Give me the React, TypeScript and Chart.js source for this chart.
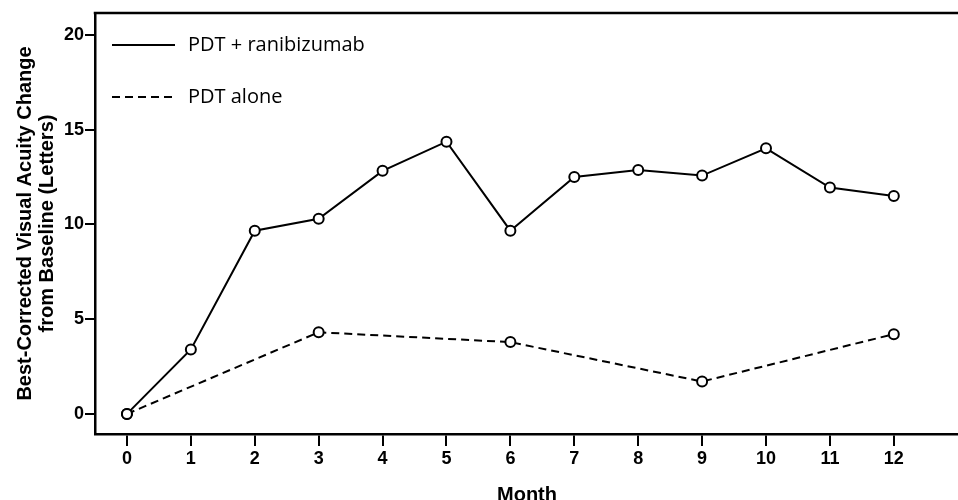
import React, { useEffect, useRef } from 'react';
import { Chart, registerables } from 'chart.js';

Chart.register(...registerables);

const months = [0, 1, 2, 3, 4, 5, 6, 7, 8, 9, 10, 11, 12];
const comboValues = [0, 3.4, 9.67, 10.3, 12.83, 14.37, 9.67, 12.5, 12.87, 12.58, 14.02, 11.95, 11.5];
const pdtMonths = [0, 3, 6, 9, 12];
const pdtValues = [0, 4.31, 3.79, 1.71, 4.21];
const yTicks = [0, 5, 10, 15, 20];
const xTicks = months;
const seriesLabels = ['PDT + ranibizumab', 'PDT alone'];
const xTitle = 'Month';
const yTitle = ['Best-Corrected Visual Acuity Change', 'from Baseline (Letters)'];

const framePlugin = {
  id: 'frameAndLegend',
  afterDraw(chart: any) {
    const { ctx, chartArea } = chart;
    ctx.save();
    ctx.strokeStyle = '#000';
    ctx.lineWidth = 2.5;
    ctx.beginPath();
    ctx.moveTo(chartArea.left - 1.25, chartArea.top);
    ctx.lineTo(chart.width, chartArea.top);
    ctx.stroke();
    chart.data.datasets.forEach((ds: any, i: number) => {
      const y = chartArea.top + 32 + i * 52;
      const x0 = chartArea.left + 17;
      ctx.lineWidth = 2;
      ctx.setLineDash(ds.borderDash || []);
      ctx.beginPath();
      ctx.moveTo(x0, y);
      ctx.lineTo(x0 + 63, y);
      ctx.stroke();
      ctx.setLineDash([]);
      ctx.fillStyle = '#000';
      ctx.font = '20px "Open Sans"';
      ctx.textBaseline = 'middle';
      ctx.textAlign = 'left';
      ctx.fillText(ds.label, x0 + 76, y);
    });
    ctx.restore();
  },
};

export default function App() {
  const ref = useRef<HTMLCanvasElement>(null);
  useEffect(() => {
    document.body.style.margin = '0';
    const chart = new Chart(ref.current as HTMLCanvasElement, {
      type: 'line',
      data: {
        datasets: [
          {
            label: seriesLabels[0],
            data: months.map((m, i) => ({ x: m, y: comboValues[i] })),
            borderColor: '#000',
            borderWidth: 2,
            pointRadius: 5,
            pointBorderWidth: 2,
            pointBackgroundColor: '#fff',
            pointBorderColor: '#000',
          },
          {
            label: seriesLabels[1],
            data: pdtMonths.map((m, i) => ({ x: m, y: pdtValues[i] })),
            borderColor: '#000',
            borderWidth: 2,
            borderDash: [8, 5],
            pointRadius: 5,
            pointBorderWidth: 2,
            pointBackgroundColor: '#fff',
            pointBorderColor: '#000',
          },
        ],
      },
      options: {
        animation: false,
        responsive: false,
        maintainAspectRatio: false,
        layout: { padding: { top: 13, left: 0, right: 0, bottom: 0 } },
        plugins: { legend: { display: false }, tooltip: { enabled: false } },
        scales: {
          x: {
            type: 'linear',
            min: -0.5,
            max: 13.02,
            afterBuildTicks: (axis: any) => {
              axis.ticks = xTicks.map((v) => ({ value: v }));
            },
            afterFit: (scale: any) => {
              scale.height = 66;
              scale.paddingLeft = 0;
              scale.paddingRight = 0;
            },
            border: { display: true, color: '#000', width: 2.5 },
            grid: { drawOnChartArea: false, drawTicks: true, tickLength: 12, color: '#000', lineWidth: 2 },
            ticks: {
              color: '#000',
              padding: 2,
              maxRotation: 0,
              autoSkip: false,
              font: { family: 'Liberation Sans', size: 18, weight: 'bold' },
            },
            title: {
              display: true,
              text: xTitle,
              color: '#000',
              font: { family: 'Liberation Sans', size: 20, weight: 'bold', lineHeight: 1.1 },
              padding: { top: 0, bottom: -6 },
            },
          },
          y: {
            type: 'linear',
            min: -1.06,
            max: 21.16,
            afterBuildTicks: (axis: any) => {
              axis.ticks = yTicks.map((v) => ({ value: v }));
            },
            afterFit: (scale: any) => {
              scale.width = 95;
              scale.paddingTop = 0;
              scale.paddingBottom = 0;
            },
            border: { display: true, color: '#000', width: 2.5 },
            grid: { drawOnChartArea: false, drawTicks: true, tickLength: 10, color: '#000', lineWidth: 2 },
            ticks: {
              color: '#000',
              padding: 1,
              font: { family: 'Liberation Sans', size: 18, weight: 'bold' },
            },
            title: {
              display: true,
              text: yTitle,
              color: '#000',
              font: { family: 'Liberation Sans', size: 20, weight: 'bold', lineHeight: 1.1 },
              padding: { top: 14, bottom: 0 },
            },
          },
        },
      },
      plugins: [framePlugin],
    } as any);
    return () => chart.destroy();
  }, []);
  return (
    <div style={{ position: 'fixed', left: 0, top: 0, width: 958, height: 500, overflow: 'hidden', background: '#fff' }}>
      <canvas ref={ref} width={966} height={500} style={{ display: 'block' }} />
    </div>
  );
}
